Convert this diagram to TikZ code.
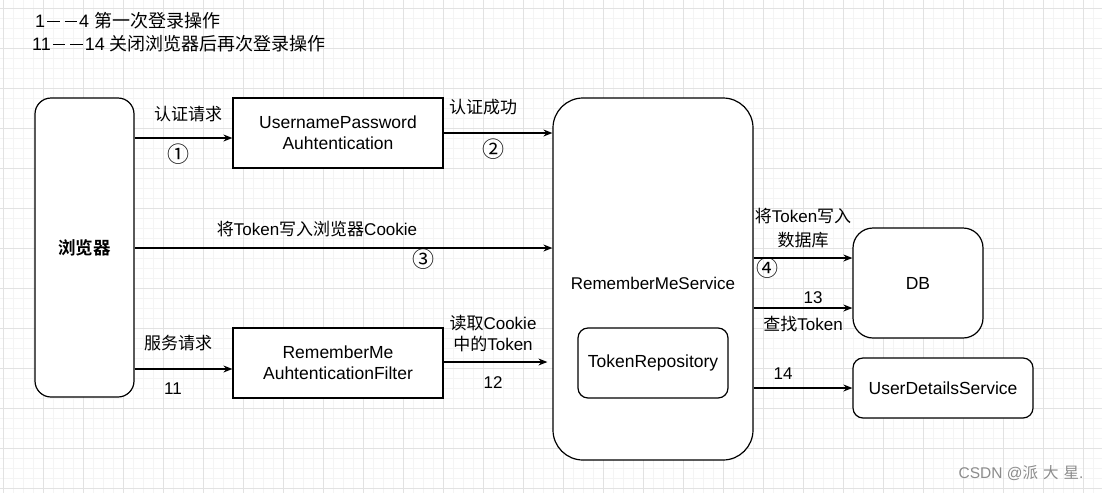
\documentclass[tikz,border=0pt]{standalone}
\usepackage{fontspec}
\setmainfont{Liberation Sans}
\newfontfamily\cjk{Noto Sans CJK SC}[BoldFont={Noto Sans CJK SC Bold}]
\newcommand{\C}[1]{{\cjk #1}}
\newcommand{\Circ}[1]{{\cjk\fontsize{22}{22}\selectfont #1}}
\newcommand{\dd}{\kern2pt\rule[5.5pt]{12.5pt}{1.4pt}\kern5pt\rule[5.5pt]{12.5pt}{1.4pt}\kern2pt}
\usetikzlibrary{arrows.meta,calc}
\definecolor{gmajor}{HTML}{E2E2E2}
\definecolor{gminor}{HTML}{F4F4F4}
\tikzset{
  box/.style={draw=black, line width=1.2pt, fill=white, inner sep=0pt, align=center},
  arr/.style={line width=1.2pt, -{Stealth[length=9pt,width=7pt]}},
  lbl/.style={inner sep=0pt, align=center, font=\fontsize{17}{21}\selectfont},
}
\begin{document}
\begin{tikzpicture}[x=1pt,y=-1pt,font=\fontsize{17.5}{21}\selectfont]
\useasboundingbox (0,0) rectangle (1102,493);
\fill[white] (0,0) rectangle (1102,493);
\foreach \x in {3,13,...,1103} \draw[gminor,line width=0.8pt] (\x,0) -- (\x,493);
\foreach \y in {8,18,...,493} \draw[gminor,line width=0.8pt] (0,\y) -- (1102,\y);
\foreach \x in {3,43,...,1103} \draw[gmajor,line width=1pt] (\x,0) -- (\x,493);
\foreach \y in {8,48,...,493} \draw[gmajor,line width=1pt] (0,\y) -- (1102,\y);

% title
\node[lbl,anchor=west,font=\fontsize{18}{22}\selectfont] (t1) at (35,21) {1\dd4 \C{第一次登录操作}};
\node[lbl,anchor=west,font=\fontsize{18}{22}\selectfont] (t2) at (32,44) {11\dd14 \C{关闭浏览器后再次登录操作}};

% nodes
\node[box,rounded corners=16pt,minimum width=99pt,minimum height=299pt] (br) at (84.5,247.5) {\C{\bfseries 浏览器}};
\node[box,minimum width=210pt,minimum height=70pt] (up) at (338,133) {UsernamePassword\\Auhtentication};
\node[box,minimum width=210pt,minimum height=70pt] (rf) at (338,363) {RememberMe\\AuhtenticationFilter};
\node[box,rounded corners=30pt,minimum width=200pt,minimum height=362pt] (rms) at (653,279) {};
\node[lbl] (rmsl) at (653,283) {RememberMeService};
\node[box,rounded corners=10pt,minimum width=150pt,minimum height=70pt] (tr) at (653,363) {TokenRepository};
\node[box,rounded corners=20pt,minimum width=130pt,minimum height=110pt] (db) at (918,283) {DB};
\node[box,rounded corners=10pt,minimum width=180pt,minimum height=60pt] (uds) at (943,388) {UserDetailsService};

% connectors
\draw[arr] (br.east |- 0,138) -- (up.west |- 0,138);
\draw[arr] (up.east |- 0,133) -- (rms.west |- 0,133);
\draw[arr] (br.east |- 0,248) -- (rms.west |- 0,248);
\draw[arr] (br.east |- 0,369) -- (rf.west |- 0,369);
\draw[arr] (rf.east |- 0,362) -- ($(rms.west |- 0,362)+(-5,0)$);
\draw[arr] (rms.east |- 0,258) -- (db.west |- 0,258);
\draw[arr] (rms.east |- 0,308) -- (db.west |- 0,308);
\draw[arr] (rms.east |- 0,388) -- (uds.west |- 0,388);

% labels
\node[lbl] (l1a) at (188,114) {\C{认证请求}};
\node[lbl] (l1b) at (178,154) {\Circ{①}};
\node[lbl] (l2a) at (483,107) {\C{认证成功}};
\node[lbl] (l2b) at (493,149) {\Circ{②}};
\node[lbl] (l3a) at (317,229) {\C{将}Token\C{写入浏览器}Cookie};
\node[lbl] (l3b) at (423,259) {\Circ{③}};
\node[lbl] (l4a) at (803,216) {\C{将}Token\C{写入}};
\node[lbl] (l4c) at (803,240) {\C{数据库}};
\node[lbl] (l4b) at (767,268) {\Circ{④}};
\node[lbl] (l13a) at (813,298) {13};
\node[lbl] (l13b) at (803,324) {\C{查找}Token};
\node[lbl] (l14) at (783,374) {14};
\node[lbl] (l11a) at (178,343) {\C{服务请求}};
\node[lbl] (l11b) at (173,389) {11};
\node[lbl] (l12a) at (493,323) {\C{读取}Cookie};
\node[lbl] (l12c) at (493,344) {\C{中的}Token};
\node[lbl] (l12b) at (493,383) {12};

% watermark
\node[inner sep=0pt,text=black!45,font=\fontsize{15.5}{18}\selectfont] (wm) at (1021,473) {CSDN @\C{派\kern5pt 大\kern5pt 星}.};
\end{tikzpicture}
\end{document}
